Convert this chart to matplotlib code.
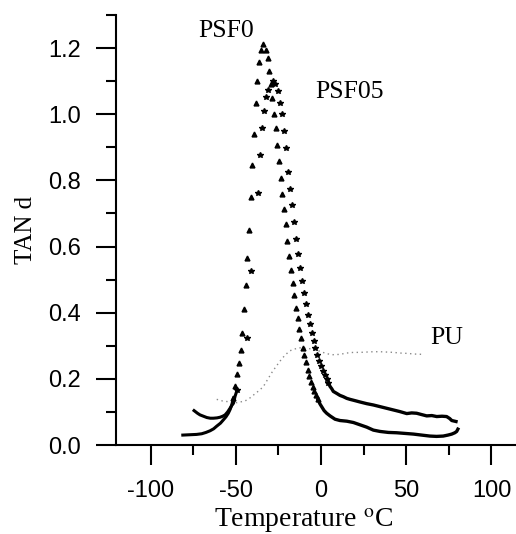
import numpy as np
import matplotlib
matplotlib.use('Agg')
import matplotlib.pyplot as plt
from matplotlib.ticker import MultipleLocator, FormatStrFormatter

plt.rcParams['mathtext.fontset'] = 'stix'
plt.rcParams['axes.unicode_minus'] = False

# PSF0: sparse points around the peak (triangles)
psf0_t = [-51.4, -50.3, -49.3, -48.1, -47.1, -46.3, -45.0, -44.2, -43.2, -42.2,
          -41.2, -40.3, -39.3, -38.1, -37.4, -36.4, -35.2, -33.8, -32.4, -31.3,
          -30.3, -29.4, -28.6, -27.5, -26.4, -25.8, -24.6, -23.6, -22.7, -21.7,
          -20.7, -19.8, -18.6, -17.6, -16.6, -15.7, -14.7, -13.7, -12.7, -11.7,
          -10.7, -9.8, -8.8, -7.8, -6.9, -5.9, -4.9, -3.9, -2.9, -1.9]
psf0_y = [0.142, 0.178, 0.214, 0.249, 0.287, 0.340, 0.412, 0.483, 0.564, 0.650,
          0.749, 0.848, 0.941, 1.034, 1.099, 1.158, 1.195, 1.213, 1.195, 1.170,
          1.131, 1.092, 1.049, 1.000, 0.959, 0.906, 0.858, 0.808, 0.760, 0.715,
          0.667, 0.617, 0.570, 0.528, 0.489, 0.453, 0.415, 0.383, 0.351, 0.325,
          0.293, 0.272, 0.251, 0.227, 0.208, 0.191, 0.176, 0.163, 0.151, 0.138]
# PSF0: dense low-temperature start and high-temperature tail
psf0_start_t = [-81.1, -77.0, -73.0, -70.0, -67.5, -65.1, -63.0, -61.2, -59.0,
                -57.3, -55.8, -54.4, -53.3, -52.4, -51.4]
psf0_start_y = [0.030, 0.031, 0.032, 0.034, 0.038, 0.043, 0.049, 0.057, 0.066,
                0.076, 0.085, 0.096, 0.108, 0.121, 0.141]
psf0_tail_t = [-1.9, -0.6, 0.6, 1.8, 3.3, 5.3, 8.2, 11.1, 15.1, 19.0, 22.9, 26.8,
               30.7, 34.6, 39.5, 44.4, 49.3, 54.2, 59.0, 63.9, 67.8, 71.7, 74.5,
               76.7, 78.5, 79.6, 80.3]
psf0_tail_y = [0.138, 0.124, 0.114, 0.104, 0.096, 0.088, 0.078, 0.074, 0.072,
               0.068, 0.061, 0.054, 0.045, 0.041, 0.038, 0.037, 0.035, 0.033,
               0.030, 0.027, 0.026, 0.027, 0.030, 0.033, 0.037, 0.041, 0.048]

# PSF05: sparse points around the peak
psf05_t = [-49.3, -43.6, -41.1, -37.0, -35.8, -34.4, -33.3, -32.1, -30.9, -28.4,
           -27.2, -25.0, -23.9, -22.9, -21.5, -20.4, -19.4, -18.2, -17.0, -16.0,
           -14.7, -13.5, -12.5, -11.3, -10.1, -9.0, -7.8, -6.6, -5.5, -4.3, -3.3,
           -2.3, -1.3, 0.0, 1.0, 2.2, 3.3, 4.3]
psf05_y = [0.165, 0.324, 0.525, 0.763, 0.878, 0.957, 1.011, 1.051, 1.072, 1.100,
           1.090, 1.069, 1.035, 1.000, 0.949, 0.897, 0.826, 0.773, 0.725, 0.674,
           0.623, 0.577, 0.536, 0.496, 0.461, 0.426, 0.394, 0.365, 0.338, 0.315,
           0.292, 0.271, 0.254, 0.239, 0.225, 0.213, 0.201, 0.188]
psf05_start_t = [-74.5, -72.5, -71.0, -69.0, -67.0, -65.0, -63.2, -61.0, -59.2,
                 -57.7, -56.3, -54.8, -53.4, -52.3, -51.4, -50.4, -49.3]
psf05_start_y = [0.104, 0.096, 0.091, 0.087, 0.083, 0.081, 0.081, 0.082, 0.084,
                 0.087, 0.091, 0.100, 0.111, 0.120, 0.126, 0.148, 0.165]
psf05_tail_t = [4.3, 5.3, 6.3, 7.2, 9.2, 11.1, 13.1, 15.1, 17.0, 20.0, 22.9, 26.8,
                30.7, 34.6, 38.5, 42.4, 46.3, 50.3, 53.2, 56.1, 59.0, 62.0, 65.0,
                67.9, 71.0, 73.7, 75.5, 76.7, 79.2]
psf05_tail_y = [0.188, 0.177, 0.170, 0.162, 0.156, 0.150, 0.146, 0.141, 0.138,
                0.134, 0.130, 0.125, 0.121, 0.116, 0.111, 0.106, 0.101, 0.095,
                0.097, 0.096, 0.092, 0.088, 0.089, 0.086, 0.087, 0.086, 0.080,
                0.074, 0.071]

# PU
pu_t = [-61.2, -57.7, -53.0, -49.4, -44.6, -41.5, -38.7, -36.0, -33.8, -31.1,
        -28.5, -26.0, -24.0, -21.1, -18.2, -15.5, -13.0, -10.0, -8.4, -4.5, -1.0,
        3.3, 7.0, 11.1, 15.0, 19.0, 23.0, 26.8, 30.7, 34.6, 38.5, 42.4, 46.3,
        50.3, 55.0, 59.6]
pu_y = [0.138, 0.133, 0.130, 0.128, 0.133, 0.143, 0.155, 0.166, 0.177, 0.200,
        0.222, 0.240, 0.254, 0.272, 0.285, 0.290, 0.294, 0.293, 0.292, 0.290,
        0.284, 0.276, 0.273, 0.274, 0.278, 0.280, 0.280, 0.281, 0.282, 0.282,
        0.281, 0.280, 0.278, 0.277, 0.275, 0.274]

SERIF = 'Liberation Serif'
SANS = 'Liberation Sans'

fig = plt.figure(figsize=(5.16, 5.34), dpi=100)
ax = fig.add_axes([116 / 516, 89 / 534, 400 / 516, 430 / 534])

# PU as a fine grey dotted trace
ax.plot(pu_t, pu_y, color='#8a8a8a', linewidth=1.0, linestyle=(0, (1, 2.5)))

# PSF0
ax.plot(psf0_start_t, psf0_start_y, color='black', linewidth=2.2)
ax.plot(psf0_t, psf0_y, linestyle='none', marker='^', markersize=3.5, color='black')
ax.plot(psf0_tail_t, psf0_tail_y, color='black', linewidth=2.4)

# PSF05
ax.plot(psf05_start_t, psf05_start_y, color='black', linewidth=2.2)
ax.plot(psf05_t, psf05_y, linestyle='none', marker='*', markersize=3.8, color='black')
ax.plot(psf05_tail_t, psf05_tail_y, color='black', linewidth=2.4)

ax.text(-72.1, 1.234, 'PSF0', fontsize=18.5, family=SERIF, ha='left', va='baseline')
ax.text(-3.5, 1.048, 'PSF05', fontsize=18.5, family=SERIF, ha='left', va='baseline')
ax.text(63.9, 0.305, 'PU', fontsize=18.5, family=SERIF, ha='left', va='baseline')

ax.set_xlim(-120.3, 114.4)
ax.set_ylim(0, 1.3)

ax.spines['top'].set_visible(False)
ax.spines['right'].set_visible(False)
ax.spines['left'].set_linewidth(1.5)
ax.spines['bottom'].set_linewidth(1.5)

ax.xaxis.set_major_locator(MultipleLocator(50))
ax.xaxis.set_minor_locator(MultipleLocator(25))
ax.yaxis.set_major_locator(MultipleLocator(0.2))
ax.yaxis.set_minor_locator(MultipleLocator(0.1))
ax.yaxis.set_major_formatter(FormatStrFormatter('%.1f'))

ax.tick_params(which='major', direction='out', length=14.4, width=1.5, pad=11,
               labelsize=17)
ax.tick_params(which='minor', direction='out', length=7.2, width=1.5)
for lab in ax.get_xticklabels() + ax.get_yticklabels():
    lab.set_family(SANS)

ax.set_ylabel('TAN d', fontsize=18, family=SERIF, labelpad=8)
fig.text(303 / 516, 7 / 534, r'Temperature $^{\mathrm{o}}$C', fontsize=20,
         family=SERIF, ha='center', va='baseline')

fig.savefig('out.png', dpi=100)
